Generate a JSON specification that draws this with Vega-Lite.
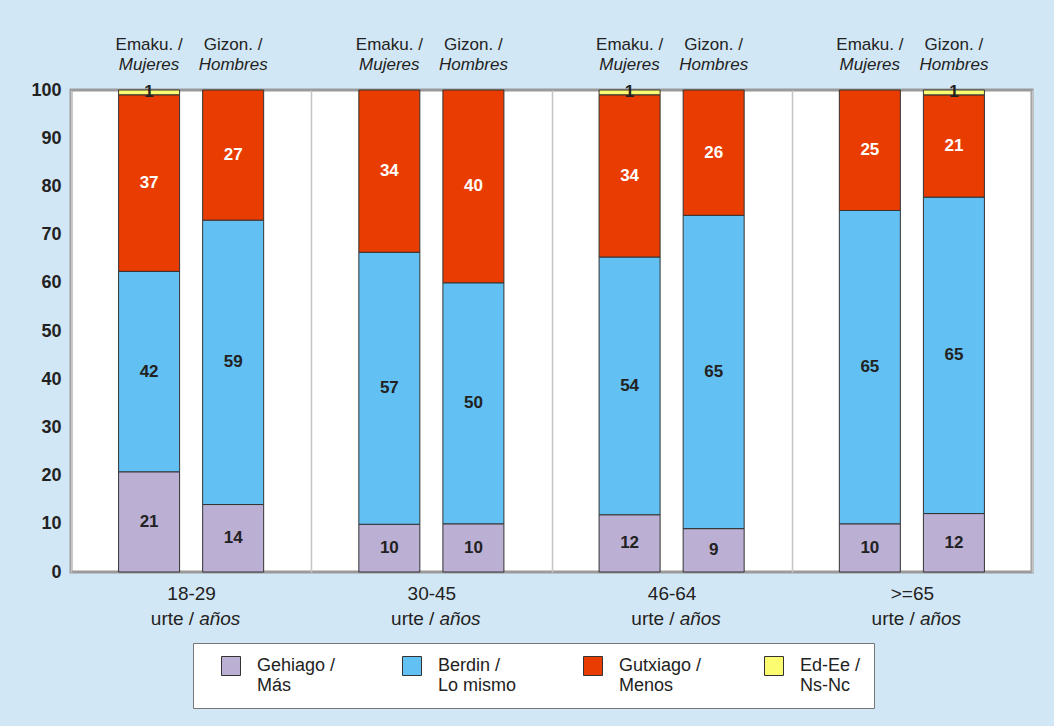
{
  "$schema": "https://vega.github.io/schema/vega-lite/v6.json",
  "width": 961,
  "height": 482,
  "autosize": {"type": "none"},
  "padding": {"left": 71, "top": 90, "right": 22, "bottom": 154},
  "background": "#d2e7f5",
  "config": {
    "font": "Liberation Sans",
    "view": {"fill": "white", "stroke": "#9a9a9a", "strokeWidth": 3}
  },
  "data": {
    "values": [
      {"age": "18-29", "sexEu": "Emaku. /", "sexEs": "Mujeres", "cat": "Gehiago / Más", "ord": 1, "value": 21},
      {"age": "18-29", "sexEu": "Emaku. /", "sexEs": "Mujeres", "cat": "Berdin / Lo mismo", "ord": 2, "value": 42},
      {"age": "18-29", "sexEu": "Emaku. /", "sexEs": "Mujeres", "cat": "Gutxiago / Menos", "ord": 3, "value": 37},
      {"age": "18-29", "sexEu": "Emaku. /", "sexEs": "Mujeres", "cat": "Ed-Ee / Ns-Nc", "ord": 4, "value": 1},
      {"age": "18-29", "sexEu": "Gizon. /", "sexEs": "Hombres", "cat": "Gehiago / Más", "ord": 1, "value": 14},
      {"age": "18-29", "sexEu": "Gizon. /", "sexEs": "Hombres", "cat": "Berdin / Lo mismo", "ord": 2, "value": 59},
      {"age": "18-29", "sexEu": "Gizon. /", "sexEs": "Hombres", "cat": "Gutxiago / Menos", "ord": 3, "value": 27},
      {"age": "30-45", "sexEu": "Emaku. /", "sexEs": "Mujeres", "cat": "Gehiago / Más", "ord": 1, "value": 10},
      {"age": "30-45", "sexEu": "Emaku. /", "sexEs": "Mujeres", "cat": "Berdin / Lo mismo", "ord": 2, "value": 57},
      {"age": "30-45", "sexEu": "Emaku. /", "sexEs": "Mujeres", "cat": "Gutxiago / Menos", "ord": 3, "value": 34},
      {"age": "30-45", "sexEu": "Gizon. /", "sexEs": "Hombres", "cat": "Gehiago / Más", "ord": 1, "value": 10},
      {"age": "30-45", "sexEu": "Gizon. /", "sexEs": "Hombres", "cat": "Berdin / Lo mismo", "ord": 2, "value": 50},
      {"age": "30-45", "sexEu": "Gizon. /", "sexEs": "Hombres", "cat": "Gutxiago / Menos", "ord": 3, "value": 40},
      {"age": "46-64", "sexEu": "Emaku. /", "sexEs": "Mujeres", "cat": "Gehiago / Más", "ord": 1, "value": 12},
      {"age": "46-64", "sexEu": "Emaku. /", "sexEs": "Mujeres", "cat": "Berdin / Lo mismo", "ord": 2, "value": 54},
      {"age": "46-64", "sexEu": "Emaku. /", "sexEs": "Mujeres", "cat": "Gutxiago / Menos", "ord": 3, "value": 34},
      {"age": "46-64", "sexEu": "Emaku. /", "sexEs": "Mujeres", "cat": "Ed-Ee / Ns-Nc", "ord": 4, "value": 1},
      {"age": "46-64", "sexEu": "Gizon. /", "sexEs": "Hombres", "cat": "Gehiago / Más", "ord": 1, "value": 9},
      {"age": "46-64", "sexEu": "Gizon. /", "sexEs": "Hombres", "cat": "Berdin / Lo mismo", "ord": 2, "value": 65},
      {"age": "46-64", "sexEu": "Gizon. /", "sexEs": "Hombres", "cat": "Gutxiago / Menos", "ord": 3, "value": 26},
      {"age": ">=65", "sexEu": "Emaku. /", "sexEs": "Mujeres", "cat": "Gehiago / Más", "ord": 1, "value": 10},
      {"age": ">=65", "sexEu": "Emaku. /", "sexEs": "Mujeres", "cat": "Berdin / Lo mismo", "ord": 2, "value": 65},
      {"age": ">=65", "sexEu": "Emaku. /", "sexEs": "Mujeres", "cat": "Gutxiago / Menos", "ord": 3, "value": 25},
      {"age": ">=65", "sexEu": "Gizon. /", "sexEs": "Hombres", "cat": "Gehiago / Más", "ord": 1, "value": 12},
      {"age": ">=65", "sexEu": "Gizon. /", "sexEs": "Hombres", "cat": "Berdin / Lo mismo", "ord": 2, "value": 65},
      {"age": ">=65", "sexEu": "Gizon. /", "sexEs": "Hombres", "cat": "Gutxiago / Menos", "ord": 3, "value": 21},
      {"age": ">=65", "sexEu": "Gizon. /", "sexEs": "Hombres", "cat": "Ed-Ee / Ns-Nc", "ord": 4, "value": 1}
    ]
  },
  "encoding": {
    "x": {
      "field": "age", "type": "nominal", "sort": ["18-29", "30-45", "46-64", ">=65"],
      "scale": {"paddingInner": 0, "paddingOuter": 0},
      "axis": {
        "title": null, "labelAngle": 0, "labelFontSize": 19, "labelColor": "#222",
        "labelPadding": 12, "ticks": false, "domain": false,
        "grid": true, "tickBand": "extent", "gridColor": "#c4c4c4", "gridWidth": 1.5
      }
    }
  },
  "layer": [
    {
      "mark": {"type": "bar", "stroke": "#333", "strokeWidth": 1},
      "encoding": {
        "xOffset": {"field": "sexEs", "type": "nominal", "sort": ["Mujeres", "Hombres"],
          "scale": {"paddingInner": 0.274, "paddingOuter": 0.566}},
        "y": {
          "field": "value", "type": "quantitative", "stack": "normalize",
          "scale": {"domain": [0, 1], "nice": false},
          "axis": {
            "title": null, "values": [0, 0.1, 0.2, 0.3, 0.4, 0.5, 0.6, 0.7, 0.8, 0.9, 1],
            "labelExpr": "round(datum.value*100)", "labelFontSize": 18, "labelFontWeight": "bold",
            "labelColor": "#222", "labelPadding": 10, "ticks": false, "domain": false, "grid": false
          }
        },
        "order": {"field": "ord", "type": "quantitative"},
        "color": {
          "field": "cat", "type": "nominal",
          "scale": {
            "domain": ["Gehiago / Más", "Berdin / Lo mismo", "Gutxiago / Menos", "Ed-Ee / Ns-Nc"],
            "range": ["#bbafd4", "#62c0f3", "#e93c00", "#fcfc70"]
          },
          "legend": {
            "title": null, "orient": "none", "legendX": 122, "legendY": 553,
            "direction": "horizontal", "columns": 4, "gridAlign": "all", "columnPadding": 47,
            "fillColor": "white", "strokeColor": "#777", "padding": 13,
            "symbolType": "square", "symbolSize": 361, "symbolStrokeColor": "#333", "symbolStrokeWidth": 1,
            "symbolOffset": 15,
            "labelFontSize": 18, "labelColor": "#222", "labelOffset": 16, "labelLimit": 200,
            "labelExpr": "[split(datum.label, ' / ')[0] + ' /', split(datum.label, ' / ')[1]]"
          }
        }
      }
    },
    {
      "mark": {"type": "text", "fontSize": 17, "fontWeight": "bold", "baseline": "middle"},
      "encoding": {
        "xOffset": {"field": "sexEs", "type": "nominal", "sort": ["Mujeres", "Hombres"]},
        "y": {"field": "value", "type": "quantitative", "stack": "normalize", "bandPosition": 0.5},
        "order": {"field": "ord", "type": "quantitative"},
        "text": {"field": "value", "type": "quantitative"},
        "color": {"condition": {"test": "datum.cat == 'Gutxiago / Menos'", "value": "white"}, "value": "#222"}
      }
    },
    {
      "transform": [{"filter": "datum.ord == 1"}],
      "mark": {"type": "text", "fontSize": 17, "color": "#222", "dy": -45, "baseline": "middle"},
      "encoding": {
        "xOffset": {"field": "sexEs", "type": "nominal", "sort": ["Mujeres", "Hombres"]},
        "y": {"datum": 1, "type": "quantitative"},
        "text": {"field": "sexEu"}
      }
    },
    {
      "transform": [{"filter": "datum.ord == 1"}],
      "mark": {"type": "text", "fontSize": 17, "fontStyle": "italic", "color": "#222", "dy": -25, "baseline": "middle"},
      "encoding": {
        "xOffset": {"field": "sexEs", "type": "nominal", "sort": ["Mujeres", "Hombres"]},
        "y": {"datum": 1, "type": "quantitative"},
        "text": {"field": "sexEs"}
      }
    },
    {
      "transform": [{"filter": "datum.ord == 1 && datum.sexEs == 'Mujeres'"}],
      "mark": {"type": "text", "fontSize": 19, "color": "#222", "align": "right", "dx": 3, "dy": 47, "baseline": "middle"},
      "encoding": {
        "y": {"datum": 0, "type": "quantitative"},
        "text": {"value": "urte /"}
      }
    },
    {
      "transform": [{"filter": "datum.ord == 1 && datum.sexEs == 'Mujeres'"}],
      "mark": {"type": "text", "fontSize": 19, "fontStyle": "italic", "color": "#222", "align": "left", "dx": 8, "dy": 47, "baseline": "middle"},
      "encoding": {
        "y": {"datum": 0, "type": "quantitative"},
        "text": {"value": "años"}
      }
    }
  ]
}
